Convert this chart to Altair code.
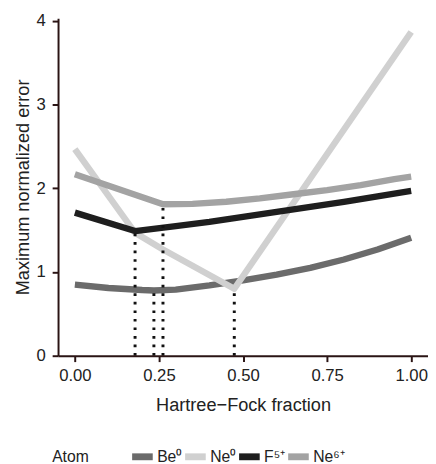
import altair as alt
import pandas as pd

# Hartree-Fock fraction grids and maximum normalized error per atom
be0_x = [0.0, 0.1, 0.2, 0.235, 0.3, 0.4, 0.5, 0.6, 0.7, 0.8, 0.9, 1.0]
be0_y = [0.85, 0.81, 0.785, 0.78, 0.79, 0.84, 0.90, 0.97, 1.05, 1.15, 1.27, 1.41]

ne0_x = [0.0, 0.179, 0.262, 0.474, 1.0]
ne0_y = [2.47, 1.47, 1.27, 0.80, 3.87]

f5_x = [0.0, 0.179, 0.3, 0.4, 0.5, 0.6, 0.7, 0.8, 0.9, 1.0]
f5_y = [1.71, 1.49, 1.55, 1.60, 1.66, 1.72, 1.78, 1.84, 1.905, 1.97]

ne6_x = [0.0, 0.262, 0.35, 0.45, 0.55, 0.65, 0.75, 0.85, 0.95, 1.0]
ne6_y = [2.17, 1.81, 1.815, 1.84, 1.88, 1.93, 1.98, 2.04, 2.11, 2.14]

atoms = ["Be⁰", "Ne⁰", "F⁵⁺", "Ne⁶⁺"]
colors = ["#6b6b6b", "#d0d0d0", "#1e1e1e", "#a3a3a3"]

# minima marked with dotted lines
min_x = [0.179, 0.235, 0.262, 0.474]
min_y = [1.49, 0.78, 1.81, 0.80]

x_ticks = [0.0, 0.25, 0.5, 0.75, 1.0]
y_ticks = [0, 1, 2, 3, 4]
x_domain = [-0.05, 1.05]
y_domain = [0, 4.035]

rows = []
for name, xs, ys in zip(atoms, [be0_x, ne0_x, f5_x, ne6_x], [be0_y, ne0_y, f5_y, ne6_y]):
    for xv, yv in zip(xs, ys):
        rows.append({"atom": name, "hf": xv, "err": yv})
df = pd.DataFrame(rows)
mins = pd.DataFrame({"hf": min_x, "err": min_y, "zero": [0.0] * len(min_x)})

FONT = "Liberation Sans"
AX = "#2a1414"

x_scale = alt.Scale(domain=x_domain, nice=False, zero=False)
y_scale = alt.Scale(domain=y_domain, nice=False)

x_enc = alt.X(
    "hf:Q",
    title="Hartree−Fock fraction",
    scale=x_scale,
    axis=alt.Axis(values=x_ticks, format=".2f", domain=True, ticks=True,
                  domainColor=AX, tickColor=AX, domainWidth=2, tickWidth=2, tickSize=6,
                  labelPadding=6, titlePadding=13, zindex=1),
)
y_enc = alt.Y(
    "err:Q",
    title="Maximum normalized error",
    scale=y_scale,
    axis=alt.Axis(values=y_ticks, format="d", domain=True, ticks=True,
                  domainColor=AX, tickColor=AX, domainWidth=2, tickWidth=2, tickSize=6,
                  labelPadding=7, titlePadding=4, zindex=1),
)

lines = alt.Chart(df).mark_line(strokeWidth=6.5, strokeCap="butt", strokeJoin="round").encode(
    x=x_enc,
    y=y_enc,
    color=alt.Color(
        "atom:N",
        scale=alt.Scale(domain=atoms, range=colors),
        sort=atoms,
        legend=alt.Legend(
            title="Atom",
            orient="none",
            legendX=-6,
            legendY=433,
            direction="horizontal",
            columns=4,
            gridAlign="none",
            titleOrient="left",
            titlePadding=40,
            symbolType="stroke",
            symbolStrokeWidth=7,
            symbolSize=441,
            columnPadding=-12,
            labelOffset=1,
        ),
    ),
)

rules = alt.Chart(mins).mark_rule(color="#111111", strokeWidth=3, strokeDash=[2.7, 6]).encode(
    x=alt.X("hf:Q", scale=x_scale),
    y=alt.Y("zero:Q", scale=y_scale),
    y2="err:Q",
)

chart = (
    alt.layer(lines, rules)
    .properties(
        width=377,
        height=344,
        autosize=alt.AutoSizeParams(type="none"),
        padding={"left": 51, "top": 6, "right": 0, "bottom": 106},
    )
    .configure_view(strokeWidth=0)
    .configure_axis(
        grid=False,
        labelFont=FONT,
        labelFontSize=17,
        labelColor="#222222",
        titleFont=FONT,
        titleFontSize=18.5,
        titleFontWeight="normal",
        titleColor="#222222",
    )
    .configure_legend(
        labelFont=FONT,
        labelFontSize=16,
        labelColor="#222222",
        titleFont=FONT,
        titleFontSize=16,
        titleFontWeight="normal",
        titleColor="#222222",
    )
)

chart.save("out.html", embed_options={"renderer": "svg", "actions": False})
